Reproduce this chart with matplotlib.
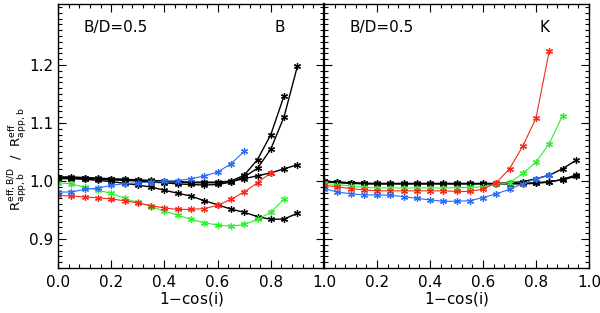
import numpy as np
import matplotlib
matplotlib.use('Agg')
import matplotlib.pyplot as plt
from matplotlib.ticker import MultipleLocator, FixedLocator

# ---- B band (left panel) ----
xb_blue = [0.0, 0.05, 0.1, 0.15, 0.2, 0.25, 0.3, 0.35, 0.4, 0.45, 0.5, 0.55, 0.6, 0.65, 0.7]
yb_blue = [0.981, 0.981, 0.9856, 0.988, 0.9925, 0.9954, 0.997, 0.998, 0.9993, 1.0005, 1.004,
           1.0086, 1.0154, 1.0297, 1.051]
xb_red = [0.0, 0.05, 0.1, 0.15, 0.2, 0.25, 0.3, 0.35, 0.4, 0.45, 0.5, 0.55, 0.6, 0.65, 0.7,
          0.75, 0.8]
yb_red = [0.9754, 0.974, 0.9725, 0.971, 0.969, 0.966, 0.962, 0.9575, 0.9535, 0.951, 0.951,
          0.9525, 0.958, 0.9685, 0.981, 0.997, 1.014]
xb_green = [0.0, 0.05, 0.1, 0.15, 0.2, 0.25, 0.3, 0.35, 0.4, 0.45, 0.5, 0.55, 0.6, 0.65, 0.7,
            0.75, 0.8, 0.85]
yb_green = [0.997, 0.995, 0.989, 0.984, 0.979, 0.970, 0.963, 0.956, 0.948, 0.941, 0.934,
            0.928, 0.924, 0.922, 0.925, 0.934, 0.946, 0.969]
xb_blk_a = [0.0, 0.05, 0.1, 0.15, 0.2, 0.25, 0.3, 0.35, 0.4, 0.45, 0.5, 0.55, 0.6, 0.65, 0.7,
            0.75, 0.8, 0.85]
yb_blk_a = [1.007, 1.007, 1.006, 1.005, 1.004, 1.003, 1.002, 1.001, 1.000, 0.999, 0.998,
            0.998, 0.998, 1.000, 1.010, 1.037, 1.080, 1.147]
xb_blk = [0.0, 0.05, 0.1, 0.15, 0.2, 0.25, 0.3, 0.35, 0.4, 0.45, 0.5, 0.55, 0.6, 0.65, 0.7,
          0.75, 0.8, 0.85, 0.9]
yb_blk_b = [1.005, 1.005, 1.004, 1.003, 1.002, 1.001, 1.000, 0.998, 0.997, 0.995, 0.994,
            0.993, 0.994, 0.998, 1.007, 1.022, 1.055, 1.111, 1.198]
yb_blk_c = [1.006, 1.006, 1.005, 1.004, 1.003, 1.002, 1.001, 1.000, 0.999, 0.998, 0.997,
            0.997, 0.997, 0.999, 1.004, 1.009, 1.014, 1.021, 1.028]
yb_blk_d = [1.004, 1.004, 1.003, 1.001, 0.999, 0.996, 0.993, 0.9896, 0.984, 0.979, 0.974,
            0.966, 0.959, 0.9515, 0.946, 0.9386, 0.934, 0.9343, 0.9446]

# ---- K band (right panel) ----
xk_85 = [0.0, 0.05, 0.1, 0.15, 0.2, 0.25, 0.3, 0.35, 0.4, 0.45, 0.5, 0.55, 0.6, 0.65, 0.7,
         0.75, 0.8, 0.85]
yk_blue = [0.987, 0.981, 0.978, 0.976, 0.976, 0.9755, 0.973, 0.970, 0.9675, 0.965, 0.965,
           0.966, 0.9715, 0.978, 0.9857, 0.9954, 1.004, 1.010]
yk_red = [0.9926, 0.990, 0.987, 0.9846, 0.983, 0.983, 0.983, 0.983, 0.983, 0.983, 0.982,
          0.982, 0.986, 0.997, 1.021, 1.060, 1.1086, 1.2247]
xk_green = [0.0, 0.05, 0.1, 0.15, 0.2, 0.25, 0.3, 0.35, 0.4, 0.45, 0.5, 0.55, 0.6, 0.65, 0.7,
            0.75, 0.8, 0.85, 0.9]
yk_green = [0.996, 0.9938, 0.9915, 0.989, 0.988, 0.988, 0.988, 0.988, 0.988, 0.988, 0.9886,
            0.989, 0.990, 0.994, 0.997, 1.013, 1.0326, 1.0646, 1.1127]
xk_blk = [0.0, 0.05, 0.1, 0.15, 0.2, 0.25, 0.3, 0.35, 0.4, 0.45, 0.5, 0.55, 0.6, 0.65, 0.7,
          0.75, 0.8, 0.85, 0.9, 0.95]
yk_blk_a = [1.000, 0.998, 0.997, 0.996, 0.9955, 0.9955, 0.9955, 0.9955, 0.9955, 0.9955,
            0.9955, 0.9955, 0.9955, 0.9955, 0.997, 0.999, 1.004, 1.010, 1.021, 1.0355]
yk_blk_b = [0.999, 0.997, 0.996, 0.995, 0.995, 0.995, 0.995, 0.995, 0.995, 0.995, 0.995,
            0.995, 0.995, 0.995, 0.995, 0.995, 0.996, 0.998, 1.003, 1.010]
yk_blk_c = [1.000, 0.998, 0.997, 0.9958, 0.9958, 0.9958, 0.9958, 0.9958, 0.9958, 0.9958,
            0.9958, 0.9958, 0.9958, 0.9958, 0.9958, 0.996, 0.997, 0.999, 1.002, 1.008]

BLUE = '#2a6cf5'
RED = '#f52a1a'
GREEN = '#2ef02e'
STAR = (6, 2, 0)


def curve(ax, x, y, c, lw=0.8):
    ax.plot(x, y, color=c, lw=lw, marker=STAR, ms=5, mew=0.9, mec=c)


fig = plt.figure(figsize=(6.0, 3.13), dpi=100)
axl = fig.add_axes([0.0967, 0.1438, 0.4433, 0.8430])
axr = fig.add_axes([0.5400, 0.1438, 0.4417, 0.8430])

for y in (yb_blk_b, yb_blk_c, yb_blk_d):
    curve(axl, xb_blk, y, 'black', 1.0)
curve(axl, xb_blk_a, yb_blk_a, 'black', 1.0)
curve(axl, xb_green, yb_green, GREEN)
curve(axl, xb_red, yb_red, RED)
curve(axl, xb_blue, yb_blue, BLUE)

for y in (yk_blk_a, yk_blk_b, yk_blk_c):
    curve(axr, xk_blk, y, 'black', 1.0)
curve(axr, xk_green, yk_green, GREEN)
curve(axr, xk_85, yk_red, RED)
curve(axr, xk_85, yk_blue, BLUE)

for ax in (axl, axr):
    ax.set_xlim(0, 1)
    ax.set_ylim(0.85, 1.305)
    ax.xaxis.set_major_locator(MultipleLocator(0.2))
    ax.xaxis.set_minor_locator(MultipleLocator(0.04))
    ax.yaxis.set_major_locator(FixedLocator([0.9, 1.0, 1.1, 1.2]))
    ax.yaxis.set_minor_locator(MultipleLocator(0.01))
    ax.tick_params(which='both', direction='in', top=True, right=True, width=0.8)
    ax.tick_params(which='major', length=6, labelsize=11, pad=3.5)
    ax.tick_params(axis='x', which='major', pad=5)
    ax.tick_params(which='minor', length=3)
    for s in ax.spines.values():
        s.set_linewidth(1.0)
    ax.set_xlabel('1$-$cos(i)', fontsize=11, labelpad=0)

axl.set_xticks([0.0, 0.2, 0.4, 0.6, 0.8, 1.0])
axl.set_xticklabels(['0.0', '0.2', '0.4', '0.6', '0.8', ''])
axl.set_yticklabels(['0.9', '1.0', '1.1', '1.2'])
axr.set_xticks([0.0, 0.2, 0.4, 0.6, 0.8, 1.0])
axr.set_xticklabels(['1.0', '0.2', '0.4', '0.6', '0.8', '1.0'])
axr.set_yticklabels([])
axr.spines['left'].set_linewidth(1.6)

fig.text(0.027, 0.49,
         r'R$^{\rm eff,B/D}_{\rm app,b}$  /  R$^{\rm eff}_{\rm app,b}$',
         fontsize=9.5, rotation=90, ha='center', va='center')

axl.text(0.095, 1.264, 'B/D=0.5', fontsize=11, va='center')
axl.text(0.815, 1.264, 'B', fontsize=11, va='center')
axr.text(0.098, 1.264, 'B/D=0.5', fontsize=11, va='center')
axr.text(0.815, 1.264, 'K', fontsize=11, va='center')

fig.savefig('out.png', dpi=100)
